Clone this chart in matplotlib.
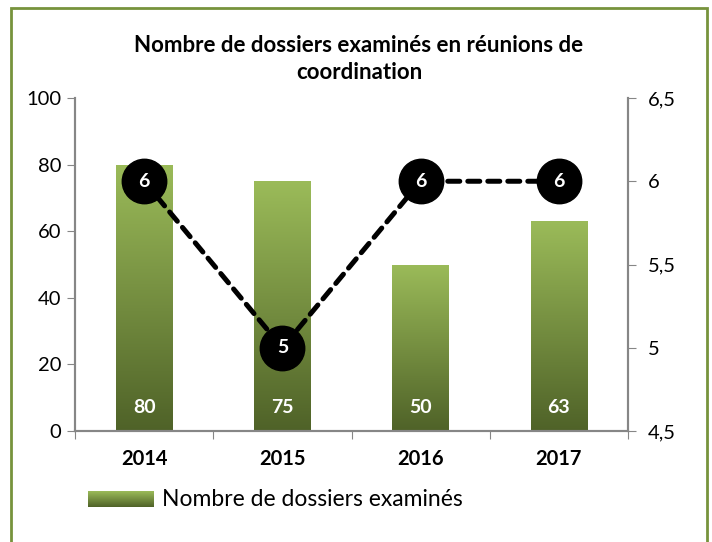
import numpy as np
import matplotlib.pyplot as plt
from matplotlib.colors import LinearSegmentedColormap
from matplotlib.patches import Rectangle
from matplotlib.ticker import FuncFormatter

plt.rcParams['font.family'] = ['Lato', 'DejaVu Sans']

years = ['2014', '2015', '2016', '2017']
dossiers = [80, 75, 50, 63]
reunions = [6, 5, 6, 6]

title = 'Nombre de dossiers examinés en réunions de\ncoordination'
legend_label = 'Nombre de dossiers examinés'

grad = LinearSegmentedColormap.from_list('g', ['#4F6228', '#9BBB59'])
axis_grey = '#868686'


def comma(v, pos):
    s = f'{v:g}'
    return s.replace('.', ',')


fig = plt.figure(figsize=(7.12, 5.42), dpi=100)
ax = fig.add_axes([75 / 712, 1 - 431 / 542, 553 / 712, 333 / 542])
ax2 = ax.twinx()

x = np.arange(len(years))
bars = ax.bar(x, dossiers, width=0.41, color='none', edgecolor='none', zorder=2)
g = np.linspace(0, 1, 256).reshape(-1, 1)
for b in bars:
    x0, w, h = b.get_x(), b.get_width(), b.get_height()
    im = ax.imshow(g, cmap=grad, origin='lower', aspect='auto',
                   extent=[x0, x0 + w, 0, h], zorder=2)
    im.set_clip_path(b)
for xi, v in zip(x, dossiers):
    ax.text(xi, 7.2, str(v), ha='center', va='center', color='white',
            fontsize=14, fontweight='bold', zorder=3)

ax.set_xlim(-0.5, len(years) - 0.5)
ax.set_ylim(0, 100)
ax.set_yticks(range(0, 101, 20))
ax.set_xticks(np.arange(-0.5, len(years), 1))
ax.set_xticklabels([])
ax.set_xticks(x, minor=True)
ax.set_xticklabels(years, minor=True, fontsize=14.5, fontweight='bold')
ax.tick_params(axis='x', which='minor', length=0, pad=13)
ax.tick_params(axis='x', which='major', length=6, color=axis_grey, direction='out')
ax.tick_params(axis='y', length=6, color=axis_grey, labelsize=14.5, pad=4)

ax2.plot(x, reunions, color='black', lw=3.6, ls=(0, (2.4, 1.6)),
         dash_capstyle='round', marker='o', markersize=32,
         markerfacecolor='black', markeredgecolor='black', zorder=4)
for xi, v in zip(x, reunions):
    ax2.text(xi, v, str(v), ha='center', va='center', color='white',
             fontsize=14, fontweight='bold', zorder=5)
ax2.set_ylim(4.5, 6.5)
ax2.set_yticks([4.5, 5, 5.5, 6, 6.5])
ax2.yaxis.set_major_formatter(FuncFormatter(comma))
ax2.tick_params(axis='y', length=6, color=axis_grey, labelsize=14.5, pad=8)

for a in (ax, ax2):
    a.spines['top'].set_visible(False)
    for s in ('left', 'right', 'bottom'):
        a.spines[s].set_color(axis_grey)
        a.spines[s].set_linewidth(1.5)

fig.text(359 / 712, 1 - 59 / 542, title, ha='center', va='center',
         fontsize=16, fontweight='bold', linespacing=1.4)

# legend with gradient swatch
lax = fig.add_axes([88 / 712, 1 - 507 / 542, 66 / 712, 16 / 542])
lax.imshow(g, cmap=grad, origin='lower', aspect='auto')
lax.axis('off')
fig.text(162 / 712, 1 - 499 / 542, legend_label, ha='left', va='center', fontsize=16.5)

# outer frame
fig.patches.append(Rectangle((11 / 712, -0.05), 696 / 712, 1.05 - 8 / 542,
                             transform=fig.transFigure, fill=False,
                             edgecolor='#77933C', lw=2))

fig.savefig('out.png', dpi=100)
